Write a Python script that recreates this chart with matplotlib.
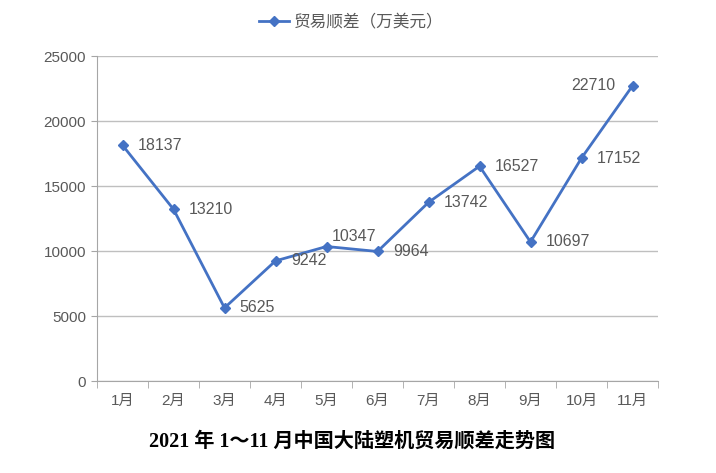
import matplotlib
matplotlib.use('Agg')
import numpy as np
import matplotlib.pyplot as plt
from matplotlib.ticker import FixedLocator

plt.rcParams['font.family'] = ['Liberation Sans', 'Noto Sans CJK SC', 'DejaVu Sans']

months = ['1月', '2月', '3月', '4月', '5月', '6月', '7月', '8月', '9月', '10月', '11月']
surplus = [18137, 13210, 5625, 9242, 10347, 9964, 13742, 16527, 10697, 17152, 22710]
series_name = '贸易顺差（万美元）'
title = '2021 年 1～11 月中国大陆塑机贸易顺差走势图'
yticks = [0, 5000, 10000, 15000, 20000, 25000]

line_color = '#4472C4'
text_color = '#595959'
grid_color = '#BFBFBF'

fig = plt.figure(figsize=(7.16, 4.73), dpi=100)
ax = fig.add_axes([0.1355, 0.1945, 0.7835, 0.687])

x = np.arange(len(months))
ax.plot(x, surplus, color=line_color, linewidth=2.0, marker='D', markersize=5.5,
        label=series_name, zorder=3)

# label offsets (points) as placed in the source chart
offsets = {4: (4, 7, 'left'), 10: (-12, 0, 'right')}
for i, (xi, v) in enumerate(zip(x, surplus)):
    dx, dy, ha = offsets.get(i, (11, 0, 'left'))
    ax.annotate(str(v), (xi, v), xytext=(dx, dy), textcoords='offset points',
                ha=ha, va='center', fontsize=11.5, color=text_color)

ax.set_xlim(-0.5, len(months) - 0.5)
ax.set_ylim(0, 25000)
ax.set_yticks(yticks)
ax.set_yticklabels([str(t) for t in yticks])
ax.set_xticks(x)
ax.set_xticklabels(months)
ax.xaxis.set_minor_locator(FixedLocator(np.arange(-0.5, len(months), 1.0)))
ax.tick_params(axis='x', which='major', length=0, pad=9, labelsize=11, labelcolor=text_color)
ax.tick_params(axis='x', which='minor', length=5, color='#A6A6A6', direction='out')
ax.tick_params(axis='y', length=4, color='#A6A6A6', pad=4, labelsize=11, labelcolor=text_color)

ax.grid(axis='y', color=grid_color, linewidth=1)
ax.set_axisbelow(True)
for side in ['top', 'right']:
    ax.spines[side].set_visible(False)
for side in ['left', 'bottom']:
    ax.spines[side].set_color('#A6A6A6')

fig.legend(loc='center', bbox_to_anchor=(0.49, 0.953), frameon=False, fontsize=12,
           labelcolor=text_color, handlelength=1.8, handletextpad=0.3)

fig.text(0.492, 0.067, title, ha='center', va='center', fontsize=14.5, fontweight='bold',
         family=['Liberation Serif', 'Noto Sans CJK SC'])

fig.savefig('out.png', dpi=100)
